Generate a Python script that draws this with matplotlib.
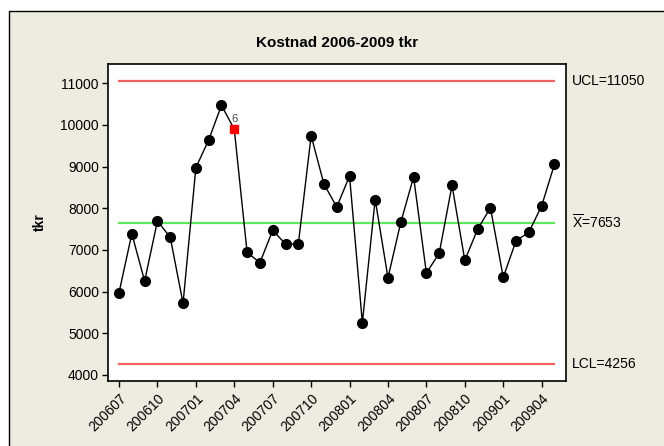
import matplotlib

matplotlib.use("Agg")
import matplotlib.pyplot as plt
from matplotlib.patches import Rectangle

# Monthly cost, 200607 .. 200905 (tkr)
values = [5974, 7390, 6255, 7695, 7304, 5720, 8974, 9639, 10472, 9896,
          6944, 6694, 7472, 7143, 7143, 9742, 8583, 8031, 8775, 5254,
          8211, 6334, 7664, 8751, 6447, 6920, 8552, 6752, 7498, 8014,
          6344, 7222, 7424, 8060, 9056]
tick_labels = ["200607", "200610", "200701", "200704", "200707", "200710",
               "200801", "200804", "200807", "200810", "200901", "200904"]
ucl, center, lcl = 11050, 7653, 4256
flagged = [10]          # 1-based index of the test-6 point
flag_text = "6"

BG = "#eeebe1"
plt.rcParams["font.family"] = ["Liberation Sans", "DejaVu Sans"]
plt.rcParams["mathtext.fontset"] = "custom"
plt.rcParams["mathtext.rm"] = "Liberation Sans"

fig = plt.figure(figsize=(6.64, 4.46), dpi=100, facecolor="white")
fig.patches.append(Rectangle((9 / 664, -0.01), 1.0, 1 - 11 / 446 + 0.01,
                             transform=fig.transFigure, facecolor=BG,
                             edgecolor="black", linewidth=1.0, zorder=-1))

ax = fig.add_axes([108 / 664, 1 - 381 / 446, 458 / 664, 317 / 446])
ax.set_facecolor("white")

n = len(values)
x = list(range(1, n + 1))

ax.plot([1, n], [ucl, ucl], color="#f26262", lw=1.6, zorder=1)
ax.plot([1, n], [lcl, lcl], color="#f26262", lw=1.6, zorder=1)
ax.plot([1, n], [center, center], color="#5ee85e", lw=1.6, zorder=1)

ax.plot(x, values, color="black", lw=1.0, zorder=2)
ok_x = [i for i in x if i not in flagged]
ax.plot(ok_x, [values[i - 1] for i in ok_x], "o", markersize=7,
        color="black", zorder=3)
for i in flagged:
    ax.plot(i, values[i - 1], marker="s", markersize=5.5, color="red",
            linestyle="none", zorder=3)
    ax.annotate(flag_text, (i, values[i - 1]), xytext=(0, 4),
                textcoords="offset points", ha="center", va="bottom",
                fontsize=8, color="#444444")

ax.set_xlim(0.14, 35.9)
ax.set_ylim(3856, 11463)
ax.set_yticks(range(4000, 11001, 1000))
ax.set_xticks(range(1, n + 1, 3))
ax.set_xticklabels(tick_labels, rotation=45, ha="right", va="top",
                   rotation_mode="anchor")
ax.tick_params(axis="both", direction="out", length=4.5, width=1,
               labelsize=10, colors="black")
ax.tick_params(axis="x", pad=3)
ax.tick_params(axis="y", pad=2)
for s in ax.spines.values():
    s.set_linewidth(1.2)
    s.set_color("black")

ax.set_title("Kostnad 2006-2009 tkr", fontsize=11, fontweight="bold", pad=12)
ax.set_ylabel("tkr", fontsize=10, fontweight="bold", labelpad=10)

lbl = dict(transform=ax.get_yaxis_transform(), fontsize=10, va="center",
           ha="left", clip_on=False)
ax.text(1.013, ucl, f"UCL={ucl}", **lbl)
ax.text(1.013, center, r"$\overline{\mathrm{X}}$" + f"={center}", **lbl)
ax.text(1.013, lcl, f"LCL={lcl}", **lbl)

fig.savefig("out.png", dpi=100, facecolor="white")
